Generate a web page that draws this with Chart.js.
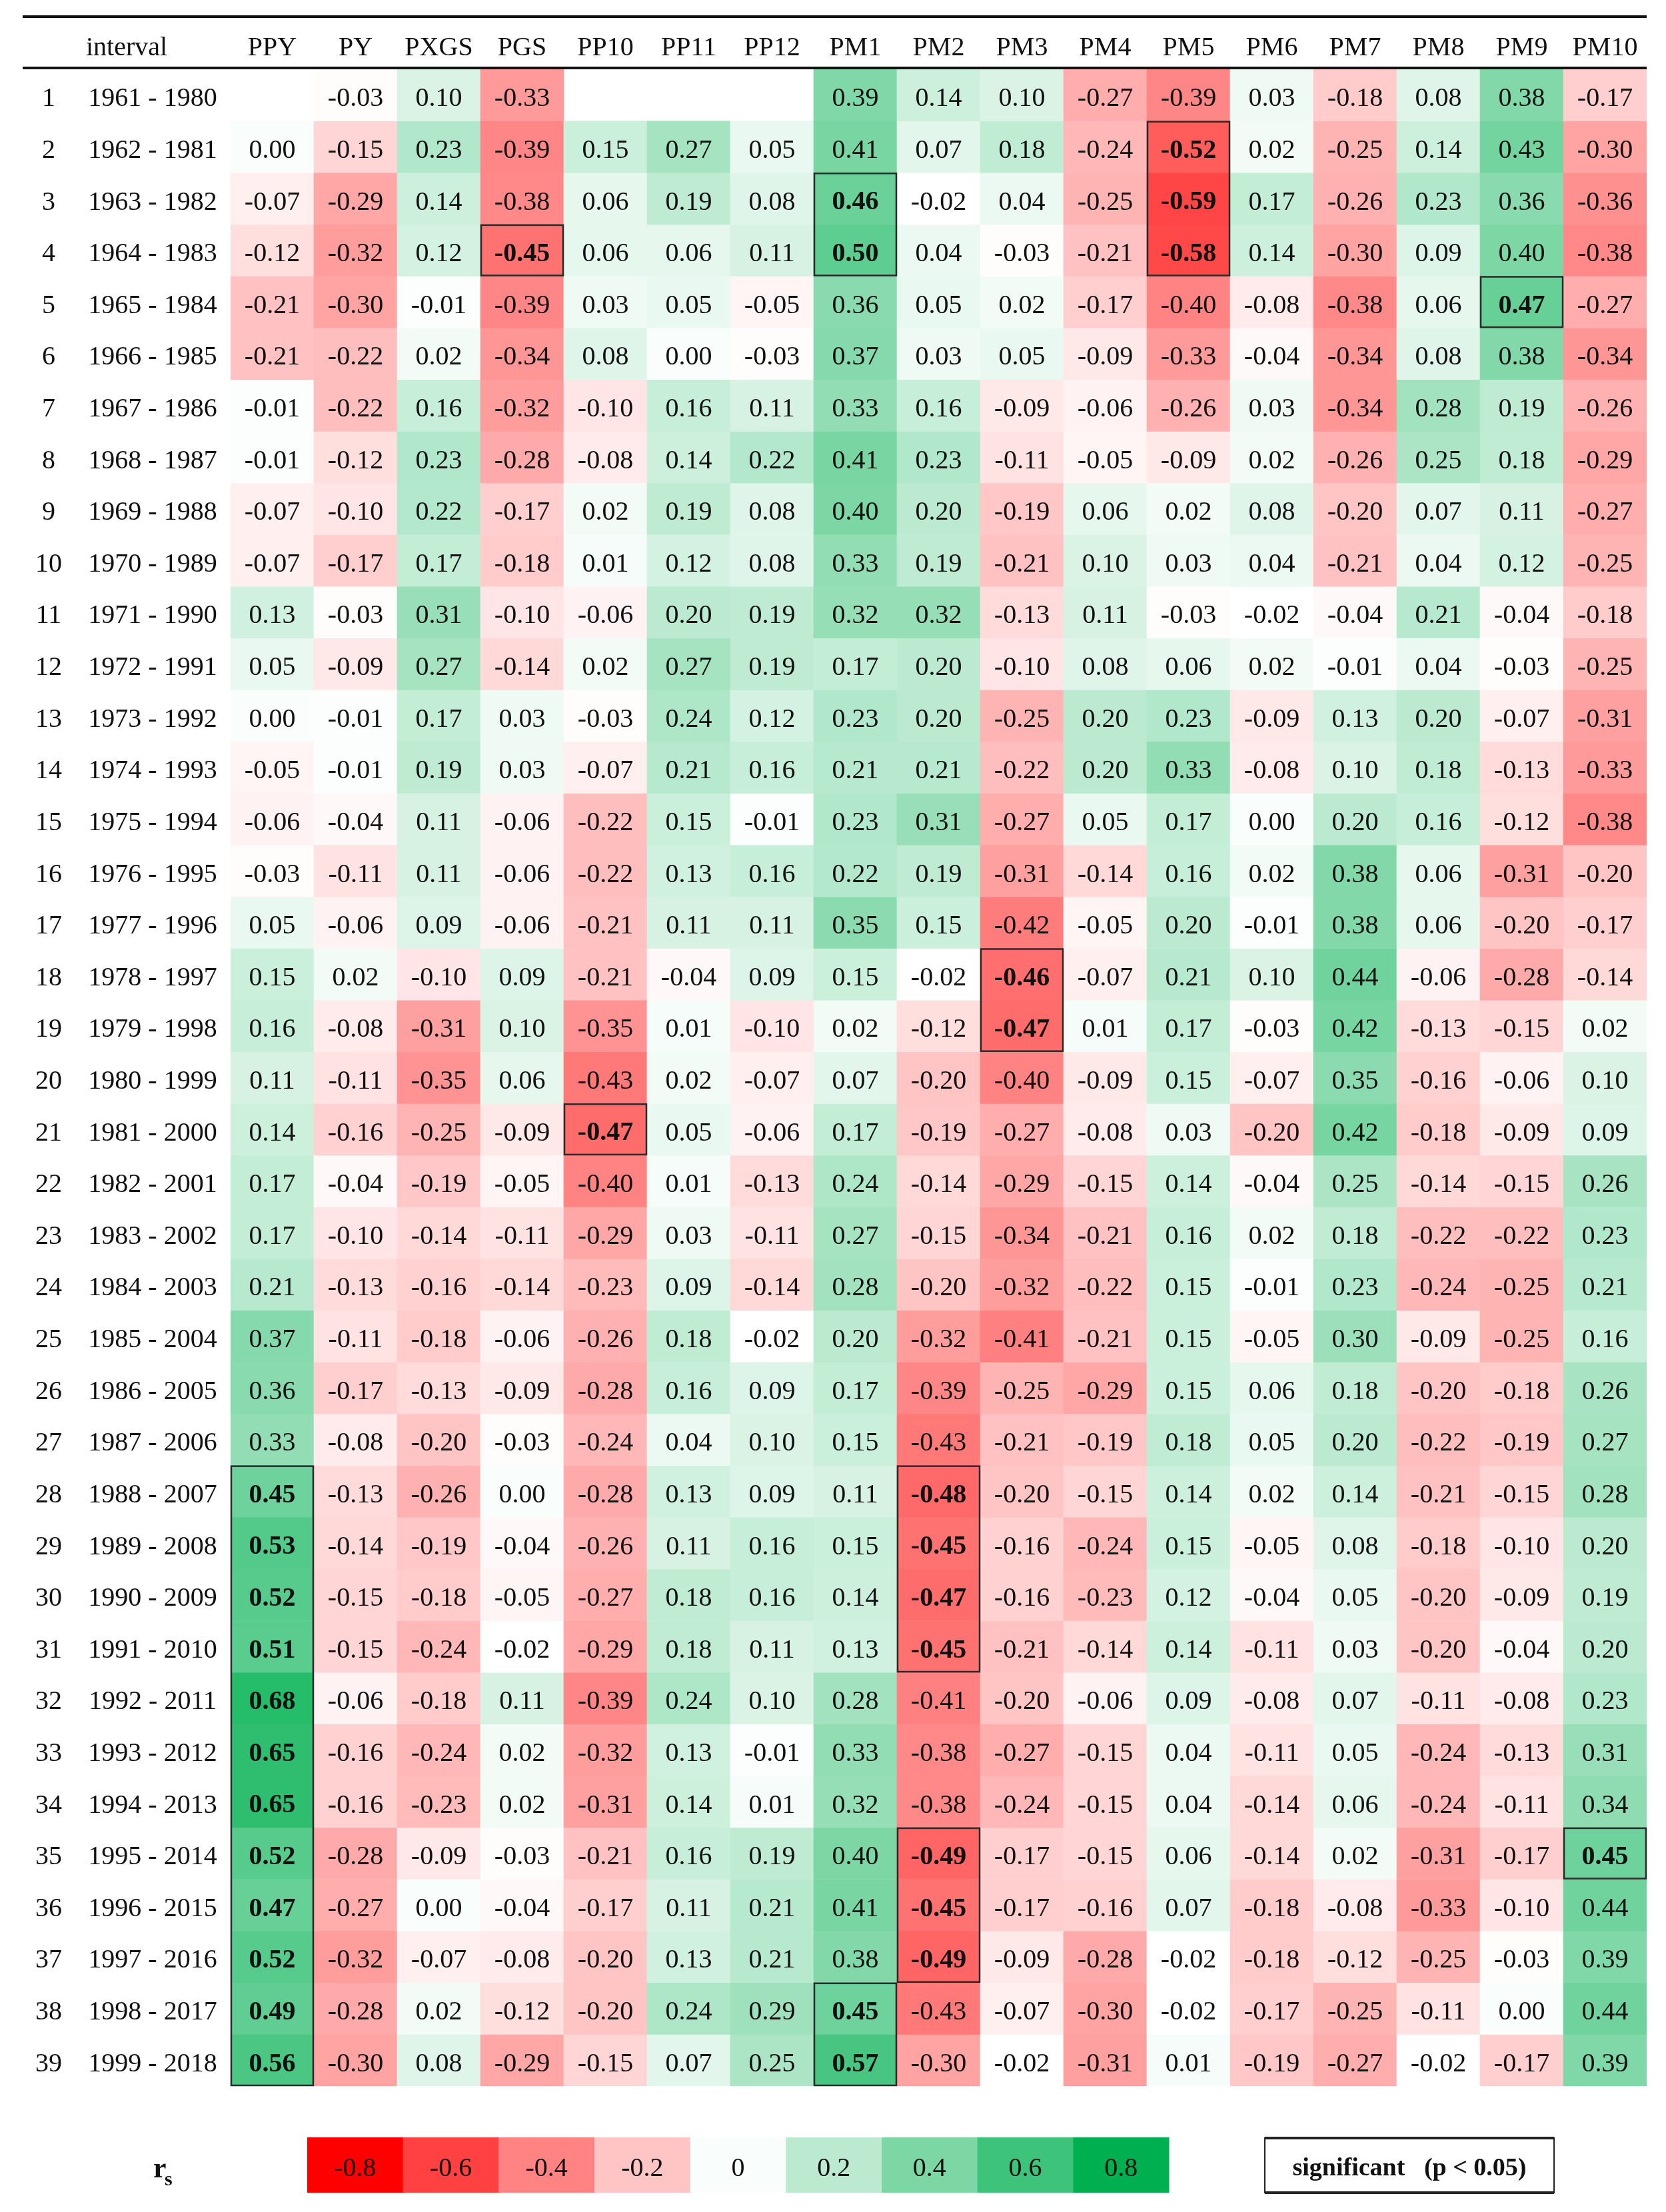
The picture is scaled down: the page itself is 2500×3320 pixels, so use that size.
<!DOCTYPE html>
<html>
<head>
<meta charset="utf-8">
<script src="https://cdn.jsdelivr.net/npm/chart.js@4.4.1/dist/chart.umd.min.js"></script>
<style>
html,body{margin:0;padding:0;background:#ffffff;}
#wrap{width:2500px;height:3320px;position:relative;}
</style>
</head>
<body>
<div id="wrap"><canvas id="c"></canvas></div>
<script>
// ---------------- data ----------------
const columns = ['PPY','PY','PXGS','PGS','PP10','PP11','PP12','PM1','PM2','PM3','PM4','PM5','PM6','PM7','PM8','PM9','PM10'];
const intervals = ['1961 - 1980','1962 - 1981','1963 - 1982','1964 - 1983','1965 - 1984','1966 - 1985','1967 - 1986','1968 - 1987','1969 - 1988','1970 - 1989',
  '1971 - 1990','1972 - 1991','1973 - 1992','1974 - 1993','1975 - 1994','1976 - 1995','1977 - 1996','1978 - 1997','1979 - 1998','1980 - 1999',
  '1981 - 2000','1982 - 2001','1983 - 2002','1984 - 2003','1985 - 2004','1986 - 2005','1987 - 2006','1988 - 2007','1989 - 2008','1990 - 2009',
  '1991 - 2010','1992 - 2011','1993 - 2012','1994 - 2013','1995 - 2014','1996 - 2015','1997 - 2016','1998 - 2017','1999 - 2018'];

const PPY  = [null,0.00,-0.07,-0.12,-0.21,-0.21,-0.01,-0.01,-0.07,-0.07, 0.13,0.05,0.00,-0.05,-0.06,-0.03,0.05,0.15,0.16,0.11, 0.14,0.17,0.17,0.21,0.37,0.36,0.33,0.45,0.53,0.52, 0.51,0.68,0.65,0.65,0.52,0.47,0.52,0.49,0.56];
const PY   = [-0.03,-0.15,-0.29,-0.32,-0.30,-0.22,-0.22,-0.12,-0.10,-0.17, -0.03,-0.09,-0.01,-0.01,-0.04,-0.11,-0.06,0.02,-0.08,-0.11, -0.16,-0.04,-0.10,-0.13,-0.11,-0.17,-0.08,-0.13,-0.14,-0.15, -0.15,-0.06,-0.16,-0.16,-0.28,-0.27,-0.32,-0.28,-0.30];
const PXGS = [0.10,0.23,0.14,0.12,-0.01,0.02,0.16,0.23,0.22,0.17, 0.31,0.27,0.17,0.19,0.11,0.11,0.09,-0.10,-0.31,-0.35, -0.25,-0.19,-0.14,-0.16,-0.18,-0.13,-0.20,-0.26,-0.19,-0.18, -0.24,-0.18,-0.24,-0.23,-0.09,0.00,-0.07,0.02,0.08];
const PGS  = [-0.33,-0.39,-0.38,-0.45,-0.39,-0.34,-0.32,-0.28,-0.17,-0.18, -0.10,-0.14,0.03,0.03,-0.06,-0.06,-0.06,0.09,0.10,0.06, -0.09,-0.05,-0.11,-0.14,-0.06,-0.09,-0.03,0.00,-0.04,-0.05, -0.02,0.11,0.02,0.02,-0.03,-0.04,-0.08,-0.12,-0.29];
const PP10 = [null,0.15,0.06,0.06,0.03,0.08,-0.10,-0.08,0.02,0.01, -0.06,0.02,-0.03,-0.07,-0.22,-0.22,-0.21,-0.21,-0.35,-0.43, -0.47,-0.40,-0.29,-0.23,-0.26,-0.28,-0.24,-0.28,-0.26,-0.27, -0.29,-0.39,-0.32,-0.31,-0.21,-0.17,-0.20,-0.20,-0.15];
const PP11 = [null,0.27,0.19,0.06,0.05,0.00,0.16,0.14,0.19,0.12, 0.20,0.27,0.24,0.21,0.15,0.13,0.11,-0.04,0.01,0.02, 0.05,0.01,0.03,0.09,0.18,0.16,0.04,0.13,0.11,0.18, 0.18,0.24,0.13,0.14,0.16,0.11,0.13,0.24,0.07];
const PP12 = [null,0.05,0.08,0.11,-0.05,-0.03,0.11,0.22,0.08,0.08, 0.19,0.19,0.12,0.16,-0.01,0.16,0.11,0.09,-0.10,-0.07, -0.06,-0.13,-0.11,-0.14,-0.02,0.09,0.10,0.09,0.16,0.16, 0.11,0.10,-0.01,0.01,0.19,0.21,0.21,0.29,0.25];
const PM1  = [0.39,0.41,0.46,0.50,0.36,0.37,0.33,0.41,0.40,0.33, 0.32,0.17,0.23,0.21,0.23,0.22,0.35,0.15,0.02,0.07, 0.17,0.24,0.27,0.28,0.20,0.17,0.15,0.11,0.15,0.14, 0.13,0.28,0.33,0.32,0.40,0.41,0.38,0.45,0.57];
const PM2  = [0.14,0.07,-0.02,0.04,0.05,0.03,0.16,0.23,0.20,0.19, 0.32,0.20,0.20,0.21,0.31,0.19,0.15,-0.02,-0.12,-0.20, -0.19,-0.14,-0.15,-0.20,-0.32,-0.39,-0.43,-0.48,-0.45,-0.47, -0.45,-0.41,-0.38,-0.38,-0.49,-0.45,-0.49,-0.43,-0.30];
const PM3  = [0.10,0.18,0.04,-0.03,0.02,0.05,-0.09,-0.11,-0.19,-0.21, -0.13,-0.10,-0.25,-0.22,-0.27,-0.31,-0.42,-0.46,-0.47,-0.40, -0.27,-0.29,-0.34,-0.32,-0.41,-0.25,-0.21,-0.20,-0.16,-0.16, -0.21,-0.20,-0.27,-0.24,-0.17,-0.17,-0.09,-0.07,-0.02];
const PM4  = [-0.27,-0.24,-0.25,-0.21,-0.17,-0.09,-0.06,-0.05,0.06,0.10, 0.11,0.08,0.20,0.20,0.05,-0.14,-0.05,-0.07,0.01,-0.09, -0.08,-0.15,-0.21,-0.22,-0.21,-0.29,-0.19,-0.15,-0.24,-0.23, -0.14,-0.06,-0.15,-0.15,-0.15,-0.16,-0.28,-0.30,-0.31];
const PM5  = [-0.39,-0.52,-0.59,-0.58,-0.40,-0.33,-0.26,-0.09,0.02,0.03, -0.03,0.06,0.23,0.33,0.17,0.16,0.20,0.21,0.17,0.15, 0.03,0.14,0.16,0.15,0.15,0.15,0.18,0.14,0.15,0.12, 0.14,0.09,0.04,0.04,0.06,0.07,-0.02,-0.02,0.01];
const PM6  = [0.03,0.02,0.17,0.14,-0.08,-0.04,0.03,0.02,0.08,0.04, -0.02,0.02,-0.09,-0.08,0.00,0.02,-0.01,0.10,-0.03,-0.07, -0.20,-0.04,0.02,-0.01,-0.05,0.06,0.05,0.02,-0.05,-0.04, -0.11,-0.08,-0.11,-0.14,-0.14,-0.18,-0.18,-0.17,-0.19];
const PM7  = [-0.18,-0.25,-0.26,-0.30,-0.38,-0.34,-0.34,-0.26,-0.20,-0.21, -0.04,-0.01,0.13,0.10,0.20,0.38,0.38,0.44,0.42,0.35, 0.42,0.25,0.18,0.23,0.30,0.18,0.20,0.14,0.08,0.05, 0.03,0.07,0.05,0.06,0.02,-0.08,-0.12,-0.25,-0.27];
const PM8  = [0.08,0.14,0.23,0.09,0.06,0.08,0.28,0.25,0.07,0.04, 0.21,0.04,0.20,0.18,0.16,0.06,0.06,-0.06,-0.13,-0.16, -0.18,-0.14,-0.22,-0.24,-0.09,-0.20,-0.22,-0.21,-0.18,-0.20, -0.20,-0.11,-0.24,-0.24,-0.31,-0.33,-0.25,-0.11,-0.02];
const PM9  = [0.38,0.43,0.36,0.40,0.47,0.38,0.19,0.18,0.11,0.12, -0.04,-0.03,-0.07,-0.13,-0.12,-0.31,-0.20,-0.28,-0.15,-0.06, -0.09,-0.15,-0.22,-0.25,-0.25,-0.18,-0.19,-0.15,-0.10,-0.09, -0.04,-0.08,-0.13,-0.11,-0.17,-0.10,-0.03,0.00,-0.17];
const PM10 = [-0.17,-0.30,-0.36,-0.38,-0.27,-0.34,-0.26,-0.29,-0.27,-0.25, -0.18,-0.25,-0.31,-0.33,-0.38,-0.20,-0.17,-0.14,0.02,0.10, 0.09,0.26,0.23,0.21,0.16,0.26,0.27,0.28,0.20,0.19, 0.20,0.23,0.31,0.34,0.45,0.44,0.39,0.44,0.39];

// rows (1-based interval numbers) that are significant (p < 0.05), per column
const significantRows = {
  PPY: [28,29,30,31,32,33,34,35,36,37,38,39],
  PGS: [4],
  PP10: [21],
  PM1: [3,4,38,39],
  PM2: [28,29,30,31,35,36,37],
  PM3: [18,19],
  PM5: [2,3,4],
  PM9: [5],
  PM10: [35]
};

const legendTicks = [-0.8,-0.6,-0.4,-0.2,0,0.2,0.4,0.6,0.8];
const legendLabels = ['-0.8','-0.6','-0.4','-0.2','0','0.2','0.4','0.6','0.8'];

// ---------------- helpers ----------------
const series = [PPY,PY,PXGS,PGS,PP10,PP11,PP12,PM1,PM2,PM3,PM4,PM5,PM6,PM7,PM8,PM9,PM10];
const WHITE_POINT = -0.02;
function colorFor(v){
  if (v === null || v === undefined) return 'rgba(0,0,0,0)';
  if (v >= WHITE_POINT){
    let t = Math.min(1,(v-WHITE_POINT)/(0.8-WHITE_POINT));
    const r = Math.round(255 + (0-255)*t);
    const g = Math.round(255 + (176-255)*t);
    const b = Math.round(255 + (80-255)*t);
    return `rgb(${r},${g},${b})`;
  } else {
    let t = Math.min(1,(WHITE_POINT-v)/(WHITE_POINT+0.8));
    const gb = Math.round(255*(1-t));
    return `rgb(255,${gb},${gb})`;
  }
}
const FONT = '"Liberation Serif", "Times New Roman", serif';

const datasets = intervals.map((iv, r) => ({
  label: iv,
  data: columns.map((c, ci) => series[ci][r] === null ? null : [r + 0.5, r + 1.5]),
  backgroundColor: columns.map((c, ci) => colorFor(series[ci][r])),
  borderWidth: 0,
  borderSkipped: false,
  grouped: false,
  barPercentage: 1.0,
  categoryPercentage: 1.0
}));

const tablePlugin = {
  id: 'tablePlugin',
  afterDatasetsDraw(chart){
    const {ctx, chartArea: ca, scales: {x, y}} = chart;
    const colW = ca.width / columns.length;
    ctx.save();
    // rules
    ctx.fillStyle = '#111';
    ctx.fillRect(34, 23, ca.right - 34, 4);
    ctx.fillRect(34, ca.top - 4, ca.right - 34, 4);

    ctx.fillStyle = '#111';
    ctx.textAlign = 'center';
    ctx.textBaseline = 'middle';
    ctx.font = '40px ' + FONT;
    // header
    ctx.fillText('interval', 190, 72);
    columns.forEach((c, i) => ctx.fillText(c, x.getPixelForValue(i), 72));
    // row labels
    intervals.forEach((iv, r) => {
      const cy = y.getPixelForValue(r + 1) + 6;
      ctx.fillText(String(r + 1), 73, cy);
      ctx.fillText(iv, 229, cy);
    });
    // values
    columns.forEach((c, ci) => {
      const sig = significantRows[c] || [];
      series[ci].forEach((v, r) => {
        if (v === null) return;
        const isSig = sig.includes(r + 1);
        ctx.font = (isSig ? 'bold ' : '') + '40px ' + FONT;
        ctx.fillText(v.toFixed(2), x.getPixelForValue(ci), y.getPixelForValue(r + 1) + 6);
      });
    });
    // significance outlines (contiguous runs)
    ctx.strokeStyle = '#2a2a2a';
    ctx.lineWidth = 2.5;
    columns.forEach((c, ci) => {
      const rows = (significantRows[c] || []).slice().sort((a,b)=>a-b);
      let i = 0;
      while (i < rows.length){
        let j = i;
        while (j + 1 < rows.length && rows[j+1] === rows[j] + 1) j++;
        const left = x.getPixelForValue(ci) - colW/2;
        const top = y.getPixelForValue(rows[i] - 0.5);
        const bottom = y.getPixelForValue(rows[j] + 0.5);
        ctx.strokeRect(left + 1, top + 1, colW - 2, bottom - top - 2);
        i = j + 1;
      }
    });

    // legend: colour scale
    const lx0 = 461, lx1 = 1754, ly0 = 3208, ly1 = 3291;
    const bw = (lx1 - lx0) / legendTicks.length;
    legendTicks.forEach((t, i) => {
      ctx.fillStyle = colorFor(t);
      ctx.fillRect(lx0 + i*bw, ly0, bw + 0.5, ly1 - ly0);
    });
    ctx.fillStyle = '#111';
    ctx.font = '40px ' + FONT;
    legendLabels.forEach((l, i) => ctx.fillText(l, lx0 + (i + 0.5)*bw, (ly0 + ly1)/2 + 6));

    // r_s label
    ctx.textAlign = 'left';
    ctx.textBaseline = 'alphabetic';
    ctx.font = 'bold 44px ' + FONT;
    ctx.fillText('r', 230, 3268);
    ctx.font = 'bold 30px ' + FONT;
    ctx.fillText('s', 247, 3280);

    // significant box
    const bx0 = 1898, bx1 = 2332, by0 = 3209, by1 = 3291;
    ctx.strokeStyle = '#222';
    ctx.lineWidth = 2;
    ctx.strokeRect(bx0, by0, bx1 - bx0, by1 - by0);
    ctx.fillStyle = '#222';
    ctx.fillRect(bx0, by0 - 2, bx1 - bx0, 4);
    ctx.fillRect(bx0, by1 - 2, bx1 - bx0, 4);
    ctx.fillStyle = '#111';
    ctx.textAlign = 'center';
    ctx.textBaseline = 'middle';
    ctx.font = 'bold 38px ' + FONT;
    ctx.fillText('significant   (p < 0.05)', (bx0 + bx1)/2, (by0 + by1)/2 + 5);
    ctx.restore();
  }
};

new Chart(document.getElementById('c'), {
  type: 'bar',
  data: { labels: columns, datasets },
  options: {
    responsive: true,
    maintainAspectRatio: false,
    animation: false,
    layout: { padding: { left: 346, right: 29, top: 104, bottom: 189 } },
    plugins: { legend: { display: false }, tooltip: { enabled: false } },
    scales: {
      x: { type: 'category', display: false, offset: true },
      y: { type: 'linear', display: false, min: 0.5, max: 39.5, reverse: true }
    }
  },
  plugins: [tablePlugin]
});
</script>
</body>
</html>
